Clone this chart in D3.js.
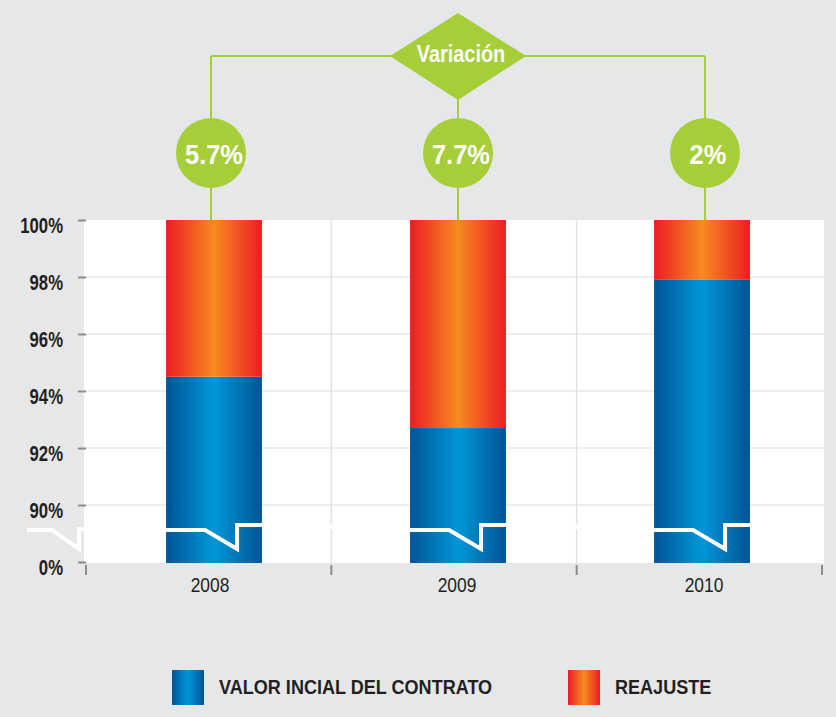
<!DOCTYPE html>
<html>
<head>
<meta charset="utf-8">
<script src="https://cdn.jsdelivr.net/npm/d3@7"></script>
<style>
  body { margin: 0; background: #e6e7e9; }
  svg { display: block; }
  text { font-family: "Liberation Sans", Arial, sans-serif; }
</style>
</head>
<body>
<svg id="chart" width="836" height="717"></svg>
<script>
// datos
const years = ["2008", "2009", "2010"];
const valorInicial = [94.5, 92.7, 97.9];   // % del total
const reajuste = [5.5, 7.3, 2.1];
const variacion = ["5.7%", "7.7%", "2%"];
const yTicks = [88, 90, 92, 94, 96, 98, 100];  // 88 = posicion del 0% (eje cortado)
const series = [
  { name: "VALOR INCIAL DEL CONTRATO", grad: "grad-blue" },
  { name: "REAJUSTE", grad: "grad-orange" }
];

const GREEN = "#a6ce39";
const INK = "#231f20";
const svg = d3.select("#chart");

// la fuente original es condensada: se comprime en x
function condense(sel, k) {
  sel.each(function () {
    const t = d3.select(this);
    const x = +t.attr("x") || 0;
    t.attr("x", x / k).attr("transform", `scale(${k},1)`);
  });
}

// gradientes
const defs = svg.append("defs");
function make_grad(id, edge, mid) {
  const g = defs.append("linearGradient").attr("id", id)
    .attr("x1", "0%").attr("x2", "100%").attr("y1", "0%").attr("y2", "0%");
  g.append("stop").attr("offset", "0%").attr("stop-color", edge);
  g.append("stop").attr("offset", "50%").attr("stop-color", mid);
  g.append("stop").attr("offset", "100%").attr("stop-color", edge);
}
make_grad("grad-blue", "#005596", "#0096d8");
make_grad("grad-orange", "#ec1c24", "#f68b1f");

// escalas
const plotL = 84, plotR = 824, plotT = 220, plotB = 563;
const y = d3.scaleLinear().domain([88, 100]).range([562, 220]);
const xBar = d3.scaleBand().domain(years).range([92, 824]).paddingInner(0.607).paddingOuter(0.3035);
const xCell = d3.scaleBand().domain(years).range([86, 822]);
const xLab = d3.scalePoint().domain(years).range([211, 705]);

// area del grafico
svg.append("rect").attr("x", plotL).attr("y", plotT)
  .attr("width", plotR - plotL).attr("height", plotB - plotT).attr("fill", "#fff");

// grilla
svg.append("g").selectAll("line").data(yTicks.slice(1, -1)).join("line")
  .attr("x1", plotL).attr("x2", plotR)
  .attr("y1", d => y(d)).attr("y2", d => y(d))
  .attr("stroke", "#e8e9eb").attr("stroke-width", 1.5);

const bounds = years.map(d => xCell(d)).concat([xCell(years[2]) + xCell.bandwidth()]);
svg.append("g").selectAll("line").data(bounds.slice(1, -1)).join("line")
  .attr("x1", d => d).attr("x2", d => d)
  .attr("y1", plotT).attr("y2", plotB)
  .attr("stroke", "#e2e3e5").attr("stroke-width", 1.5);

// corte blanco a traves de la grilla
svg.append("line").attr("x1", plotL).attr("x2", plotR).attr("y1", 527).attr("y2", 527)
  .attr("stroke", "#fff").attr("stroke-width", 5);

// barras apiladas
const bars = svg.append("g");
years.forEach((yr, i) => {
  const x0 = xBar(yr), w = xBar.bandwidth();
  bars.append("rect").attr("x", x0).attr("y", y(valorInicial[i]))
    .attr("width", w).attr("height", plotB - y(valorInicial[i]))
    .attr("fill", "url(#grad-blue)");
  bars.append("rect").attr("x", x0).attr("y", y(100))
    .attr("width", w).attr("height", y(100 - reajuste[i]) - y(100))
    .attr("fill", "url(#grad-orange)");
  // marca de corte
  bars.append("path")
    .attr("d", `M${x0},530 H${x0 + 39} L${x0 + 71},549 V525 H${x0 + w}`)
    .attr("fill", "none").attr("stroke", "#fff").attr("stroke-width", 4);
});

// eje Y
const yAxis = d3.axisLeft(y).tickValues(yTicks)
  .tickFormat(d => d === 88 ? "0%" : d + "%").tickSize(8).tickPadding(15);
const gy = svg.append("g").attr("transform", "translate(86,0)").call(yAxis);
gy.select(".domain").remove();
gy.selectAll(".tick line").attr("stroke", "#8c8c8c").attr("stroke-width", 2);
gy.selectAll(".tick text")
  .attr("dy", null).attr("y", 12)
  .style("font-size", "22px").style("font-weight", "bold").attr("fill", INK)
  .style("font-family", "'Liberation Sans', Arial, sans-serif")
  .call(condense, 0.76);

// corte en el eje Y
svg.append("path").attr("d", "M27,530 H52 L79,549 V529 H86")
  .attr("fill", "none").attr("stroke", "#fff").attr("stroke-width", 4);

// eje X
svg.append("g").selectAll("line").data(bounds).join("line")
  .attr("x1", d => d).attr("x2", d => d).attr("y1", 565).attr("y2", 575)
  .attr("stroke", "#8c8c8c").attr("stroke-width", 2);
svg.append("g").selectAll("text").data(years).join("text")
  .attr("x", d => xLab(d) - 1).attr("y", 592.5)
  .attr("text-anchor", "middle").attr("fill", INK)
  .style("font-size", "20px")
  .text(d => d)
  .call(condense, 0.87);

// diagrama de variacion
const diag = svg.append("g");
const midX = xLab(years[1]);
diag.append("line").attr("x1", xLab(years[0])).attr("x2", xLab(years[2]))
  .attr("y1", 56).attr("y2", 56).attr("stroke", GREEN).attr("stroke-width", 2);
diag.selectAll(".drop").data(years).join("line")
  .attr("class", "drop")
  .attr("x1", d => xLab(d)).attr("x2", d => xLab(d))
  .attr("y1", 56).attr("y2", plotT)
  .attr("stroke", GREEN).attr("stroke-width", 2);
diag.append("path")
  .attr("d", `M${midX - 68},56 L${midX},13 L${midX + 68},56 L${midX},100 Z`)
  .attr("fill", GREEN);
diag.append("text").attr("x", midX + 3).attr("y", 62)
  .attr("text-anchor", "middle").attr("fill", "#fff")
  .style("font-size", "24px").style("font-weight", "bold")
  .text("Variación")
  .call(condense, 0.83);
diag.selectAll("circle").data(years).join("circle")
  .attr("cx", d => xLab(d)).attr("cy", 153).attr("r", 35)
  .attr("fill", GREEN);
diag.selectAll(".var").data(years).join("text")
  .attr("class", "var")
  .attr("x", d => xLab(d) + 3).attr("y", 164.5)
  .attr("text-anchor", "middle").attr("fill", "#fff")
  .style("font-size", "28px").style("font-weight", "bold")
  .text((d, i) => variacion[i])
  .call(condense, 0.91);

// leyenda
const legX = [172, 568];
const leg = svg.append("g").selectAll("g").data(series).join("g")
  .attr("transform", (d, i) => `translate(${legX[i]},670)`);
leg.append("rect").attr("width", 32).attr("height", 35).attr("fill", d => `url(#${d.grad})`);
leg.append("text").attr("x", 47).attr("y", 24.5)
  .attr("fill", INK)
  .style("font-size", "21px").style("font-weight", "bold")
  .text(d => d.name)
  .call(condense, 0.86);
</script>
</body>
</html>
